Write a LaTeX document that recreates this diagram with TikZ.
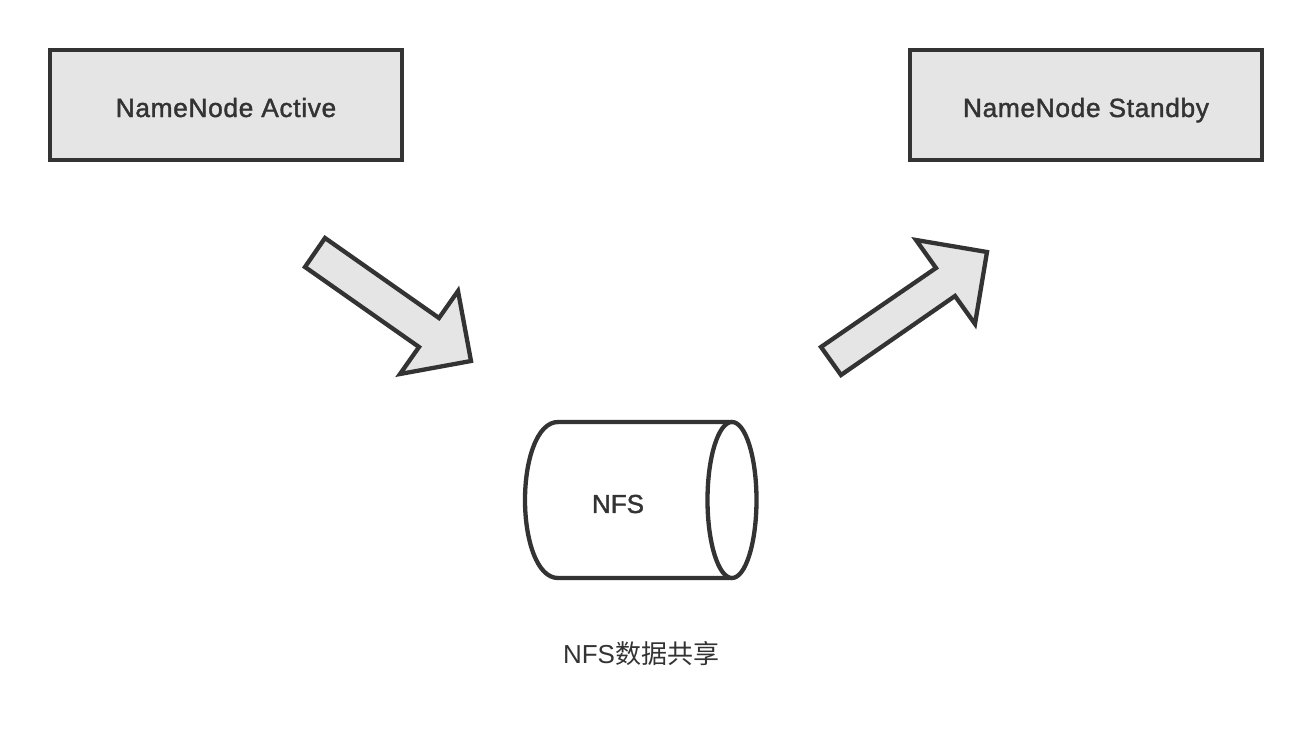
\documentclass[tikz,border=0pt]{standalone}
\usepackage{fontspec}
\setmainfont{Liberation Sans}[FakeBold=1.5,LetterSpace=2.5]
\newfontfamily\tightbold{Liberation Sans}[FakeBold=1.5]
\newfontfamily\cjk{Noto Sans CJK SC}
\newfontfamily\lightlatin{Liberation Sans}
\definecolor{ink}{HTML}{333333}
\definecolor{boxfill}{HTML}{E5E5E5}
\tikzset{
  outline/.style={draw=ink,line width=4.3pt,line join=miter,miter limit=10},
  namebox/.style={outline,fill=boxfill,minimum width=352pt,minimum height=110pt,inner sep=0pt,text=ink,text height=24pt,text depth=0pt,font=\fontsize{26.3}{30}\selectfont},
  blockarrow/.style={outline,fill=boxfill},
  cyl/.style={outline,fill=white},
  label/.style={text=ink,inner sep=0pt}
}
\begin{document}
\begin{tikzpicture}[x=1pt,y=-1pt]
\useasboundingbox (0,0) rectangle (1312,734);
\node[namebox] (active) at (226,105) {NameNode Active};
\node[namebox] (standby) at (1086,105) {NameNode Standby};
\draw[blockarrow] (325,238) -- (439,318) -- (458,291) -- (471,361) -- (400,374) -- (419,347) -- (305,267) -- cycle;
\draw[blockarrow] (821,347) -- (936,268) -- (916,240) -- (987,252) -- (975,324) -- (955,296) -- (841,375) -- cycle;
\draw[cyl] (732,422) -- (558,422) .. controls (537,422) and (525,460) .. (525,500) .. controls (525,540) and (537,578) .. (558,578) -- (732,578);
\draw[cyl] (732,500) ellipse [x radius=24.5,y radius=78];
\node[label,font=\fontsize{26}{30}\selectfont\tightbold] (nfs) at (618,504) {NFS};
\node[label,font=\fontsize{26}{30}\selectfont] (cap) at (641,654) {\lightlatin NFS\cjk 数据共享};
\end{tikzpicture}
\end{document}
